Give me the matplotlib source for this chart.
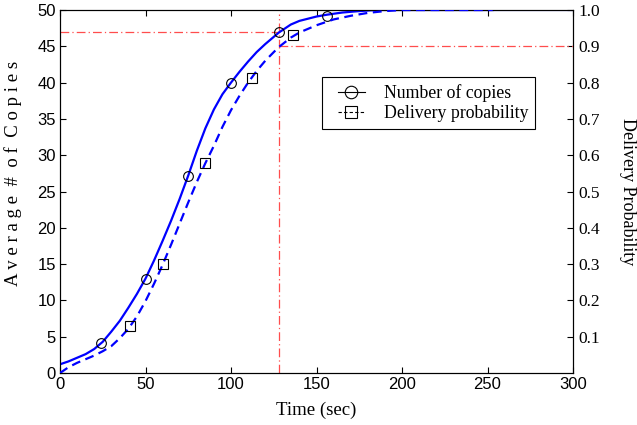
import matplotlib
matplotlib.use("Agg")
import matplotlib.pyplot as plt
from matplotlib.lines import Line2D
from matplotlib.legend_handler import HandlerLine2D

# values
t_copies = [0, 5, 10, 15, 20, 25, 30, 35, 40, 45, 50, 55, 60, 65, 70, 75, 80, 85, 90, 95,
            100, 105, 110, 115, 120, 125, 128, 135, 140, 150, 156, 165, 175, 185, 253]
copies = [1.2, 1.6, 2.1, 2.6, 3.3, 4.3, 5.7, 7.2, 9.0, 10.9, 13.0, 15.5, 18.2, 21.0, 24.0, 27.2, 30.6, 33.7, 36.3, 38.4,
          40.0, 41.5, 42.9, 44.2, 45.3, 46.3, 46.9, 48.0, 48.5, 49.1, 49.35, 49.65, 49.85, 50.0, 50.0]

t_prob = [0, 5, 10, 15, 20, 25, 30, 35, 40, 45, 50, 55, 60, 65, 70, 75, 80, 85, 90, 95,
          100, 105, 110, 115, 120, 125, 128, 135, 140, 150, 160, 170, 180, 190, 200, 253]
prob = [0.0, 0.016, 0.028, 0.038, 0.048, 0.060, 0.074, 0.096, 0.122, 0.156, 0.198, 0.246, 0.298, 0.354, 0.412, 0.470,
        0.526, 0.578, 0.626, 0.678, 0.724, 0.764, 0.800, 0.832, 0.860, 0.884, 0.898, 0.924, 0.938, 0.958, 0.974,
        0.984, 0.992, 0.997, 1.0, 1.0]

tail_t = [253, 300]
tail_p = [1.0, 1.0]

circ_t = [24, 50, 75, 100, 128, 156]
circ_y = [4.1, 13.0, 27.2, 40.0, 47.0, 49.2]
sq_t = [41, 60, 85, 112, 136]
sq_p = [0.13, 0.30, 0.578, 0.814, 0.93]

t_mark = 128
copies_mark = 47
prob_mark = 0.9

red = (1.0, 0.3, 0.3)
dashdot = (0, (7, 2.5, 1, 2.5))
serif = ['Liberation Serif', 'DejaVu Serif']
sans = ['Liberation Sans', 'DejaVu Sans']

def spaced(s):
    # wide letter spacing, like the original export
    return '  '.join(' '.join(w) for w in s.split(' '))

fig = plt.figure(figsize=(6.37, 4.25), dpi=100)
ax = fig.add_axes([60/637, 52/425, 513/637, 363/425])
ax2 = ax.twinx()

ax.plot(t_copies, copies, color='blue', lw=1.6, zorder=3)
ax2.plot(t_prob, prob, color='blue', lw=1.6, ls=(0, (4, 2.5)), zorder=3)
ax2.plot(tail_t, tail_p, color='blue', lw=0.8)
ax.plot(circ_t, circ_y, ls='none', marker='o', ms=7, mfc='none', mec='black', mew=0.8, zorder=4)
ax2.plot(sq_t, sq_p, ls='none', marker='s', ms=7, mfc='none', mec='black', mew=0.8, zorder=4)

# red guide lines
ax.plot([0, t_mark], [copies_mark, copies_mark], color=red, lw=0.9, ls=dashdot)
ax.plot([t_mark, t_mark], [0, 49.5], color=red, lw=0.9, ls=dashdot)
ax2.plot([t_mark, 300], [prob_mark, prob_mark], color=red, lw=0.9, ls=dashdot)

ax.set_xlim(0, 300)
ax.set_ylim(0, 50)
ax2.set_ylim(0, 1.0)
ax.set_xticks(range(0, 301, 50))
ax.set_yticks(range(0, 51, 5))
ax2.set_yticks([0.1, 0.2, 0.3, 0.4, 0.5, 0.6, 0.7, 0.8, 0.9, 1.0])
ax2.set_yticklabels(['%.1f' % v for v in ax2.get_yticks()], family=serif, fontsize=12.5)

ax.tick_params(axis='both', direction='in', length=4, labelsize=12, top=True, right=False, pad=3)
ax2.tick_params(axis='y', direction='in', length=4, pad=4)
for lab in ax.get_xticklabels() + ax.get_yticklabels():
    lab.set_family(sans)

ax.set_xlabel('Time (sec)', family=serif, fontsize=13.5, labelpad=7)
ax.set_ylabel(spaced('Average # of Copies'), family=serif, fontsize=13.5)
ax.yaxis.set_label_coords(-0.074, 0.55)
ax2.set_ylabel('Delivery Probability', family=serif, fontsize=13, rotation=270, labelpad=26)

handles = [Line2D([], [], color='black', lw=0.8, marker='o', ms=9, mfc='none', mew=0.8),
           Line2D([], [], color='black', lw=0.8, ls=(0, (3, 2)), marker='s', ms=9, mfc='none', mew=0.8)]
leg = ax2.legend(handles, ['Number of copies', 'Delivery probability'],
                 loc='upper left', bbox_to_anchor=(0.51, 0.815),
                 prop={'family': serif, 'size': 12.8}, fancybox=False, framealpha=1,
                 edgecolor='black', handlelength=2.03, handletextpad=1.07,
                 labelspacing=0.18, borderpad=0.4, borderaxespad=0,
                 handler_map={Line2D: HandlerLine2D(xpad=0.5)})
leg.get_frame().set_linewidth(0.8)

fig.savefig('out.png', dpi=100)
